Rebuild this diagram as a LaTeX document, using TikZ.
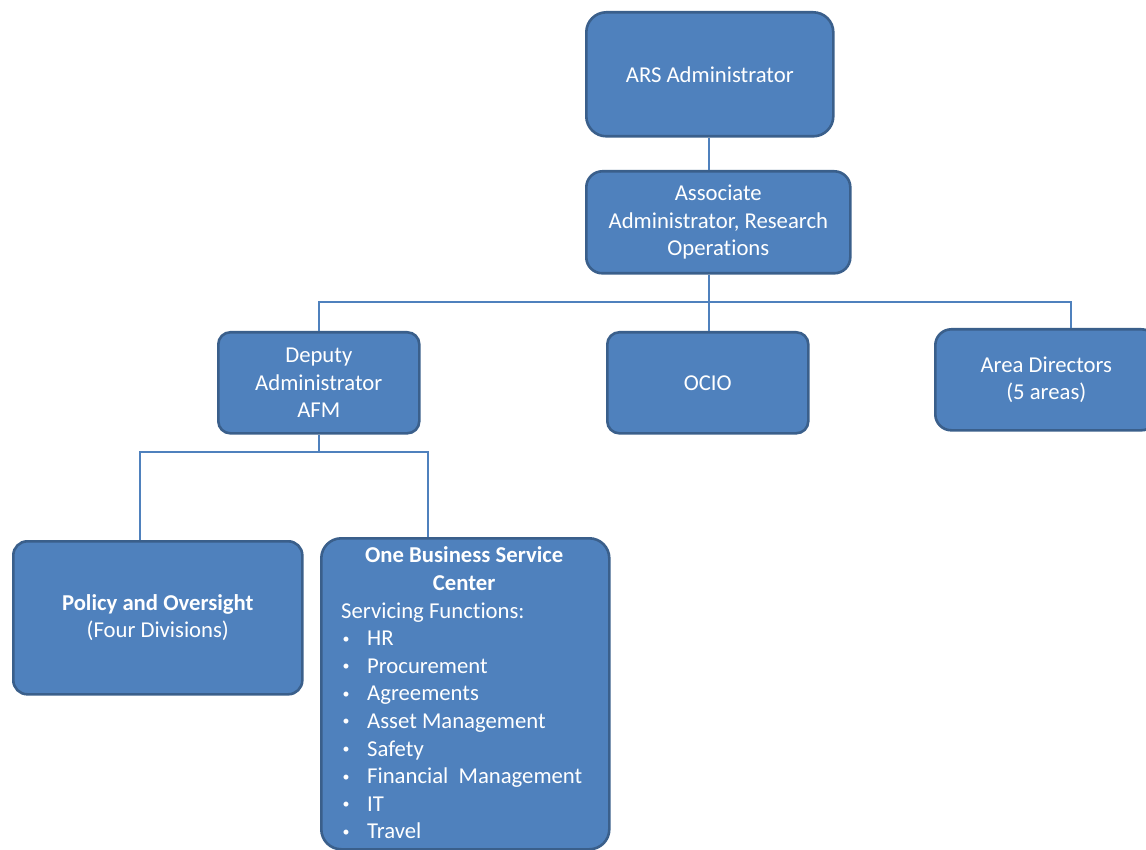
\documentclass[tikz,border=0pt]{standalone}
\usepackage{fontspec}
\setmainfont{Carlito}[Ligatures=CommonOff]
\definecolor{boxfill}{HTML}{4F81BD}
\definecolor{boxline}{HTML}{3A5F8B}
\definecolor{connc}{HTML}{4F81BD}
\newcommand\obul{\makebox[26pt][l]{\hspace{1.5pt}\raisebox{2.5pt}{\fontsize{14pt}{14pt}\selectfont\textbullet}}}
\begin{document}
\begin{tikzpicture}[x=1pt,y=-1pt,
  box/.style={draw=boxline, fill=boxfill, line width=2.6pt, rounded corners=#1,
    text=white, anchor=north west, align=center, inner sep=0pt,
    font=\fontsize{22.7pt}{27.6pt}\selectfont},
  box/.default=14pt,
  conn/.style={draw=connc, line width=1.6pt}]
\useasboundingbox (0,0) rectangle (1146,850);
\clip (0,0) rectangle (1146,850);
% boxes
\node[box=20pt, minimum width=247pt, minimum height=124pt] (ars) at (585,11) {ARS Administrator};
\node[box=16pt, minimum width=264pt, minimum height=102pt] (assoc) at (585,170) {Associate\\Administrator, Research\\Operations};
\node[box=12pt, minimum width=201pt, minimum height=101pt] (dep) at (217,331) {Deputy\\Administrator\\AFM};
\node[box=12pt, minimum width=201pt, minimum height=101pt] (ocio) at (606,331) {OCIO};
\node[box=16pt, minimum width=222pt, minimum height=101pt] (area) at (934,328) {Area Directors\\(5 areas)};
\node[box=14pt, minimum width=289pt, minimum height=153pt] (policy) at (12,540) {\textbf{Policy and Oversight}\\(Four Divisions)};
\node[box=20pt, minimum width=288pt, minimum height=311pt] (obsc) at (320,537) {};
\node[anchor=west, text=white, inner sep=0pt, font=\fontsize{22.7pt}{27.6pt}\selectfont] (obsctext) at (341,693)
 {\begin{minipage}{246pt}\centering\bfseries One Business Service\\Center\par
  \raggedright\mdseries Servicing Functions:\\
  \obul HR\\
  \obul Procurement\\
  \obul Agreements\\
  \obul Asset Management\\
  \obul Safety\\
  \obul Financial~ Management\\
  \obul IT\\
  \obul Travel\end{minipage}};
% connectors
\coordinate (bus) at (709,302);
\coordinate (forky) at (0,452);
\coordinate (areatop) at (1071,328);
\draw[conn] (ars.south -| bus) -- (assoc.north -| bus);
\draw[conn] (assoc.south -| bus) -- (ocio.north -| bus);
\draw[conn] (dep.north) |- (bus) -| (areatop);
\draw[conn] (dep.south) -- (dep.south |- forky);
\draw[conn] ([xshift=128pt]policy.north west) |- (dep.south |- forky) -| ([xshift=108pt]obsc.north west);
\end{tikzpicture}
\end{document}
